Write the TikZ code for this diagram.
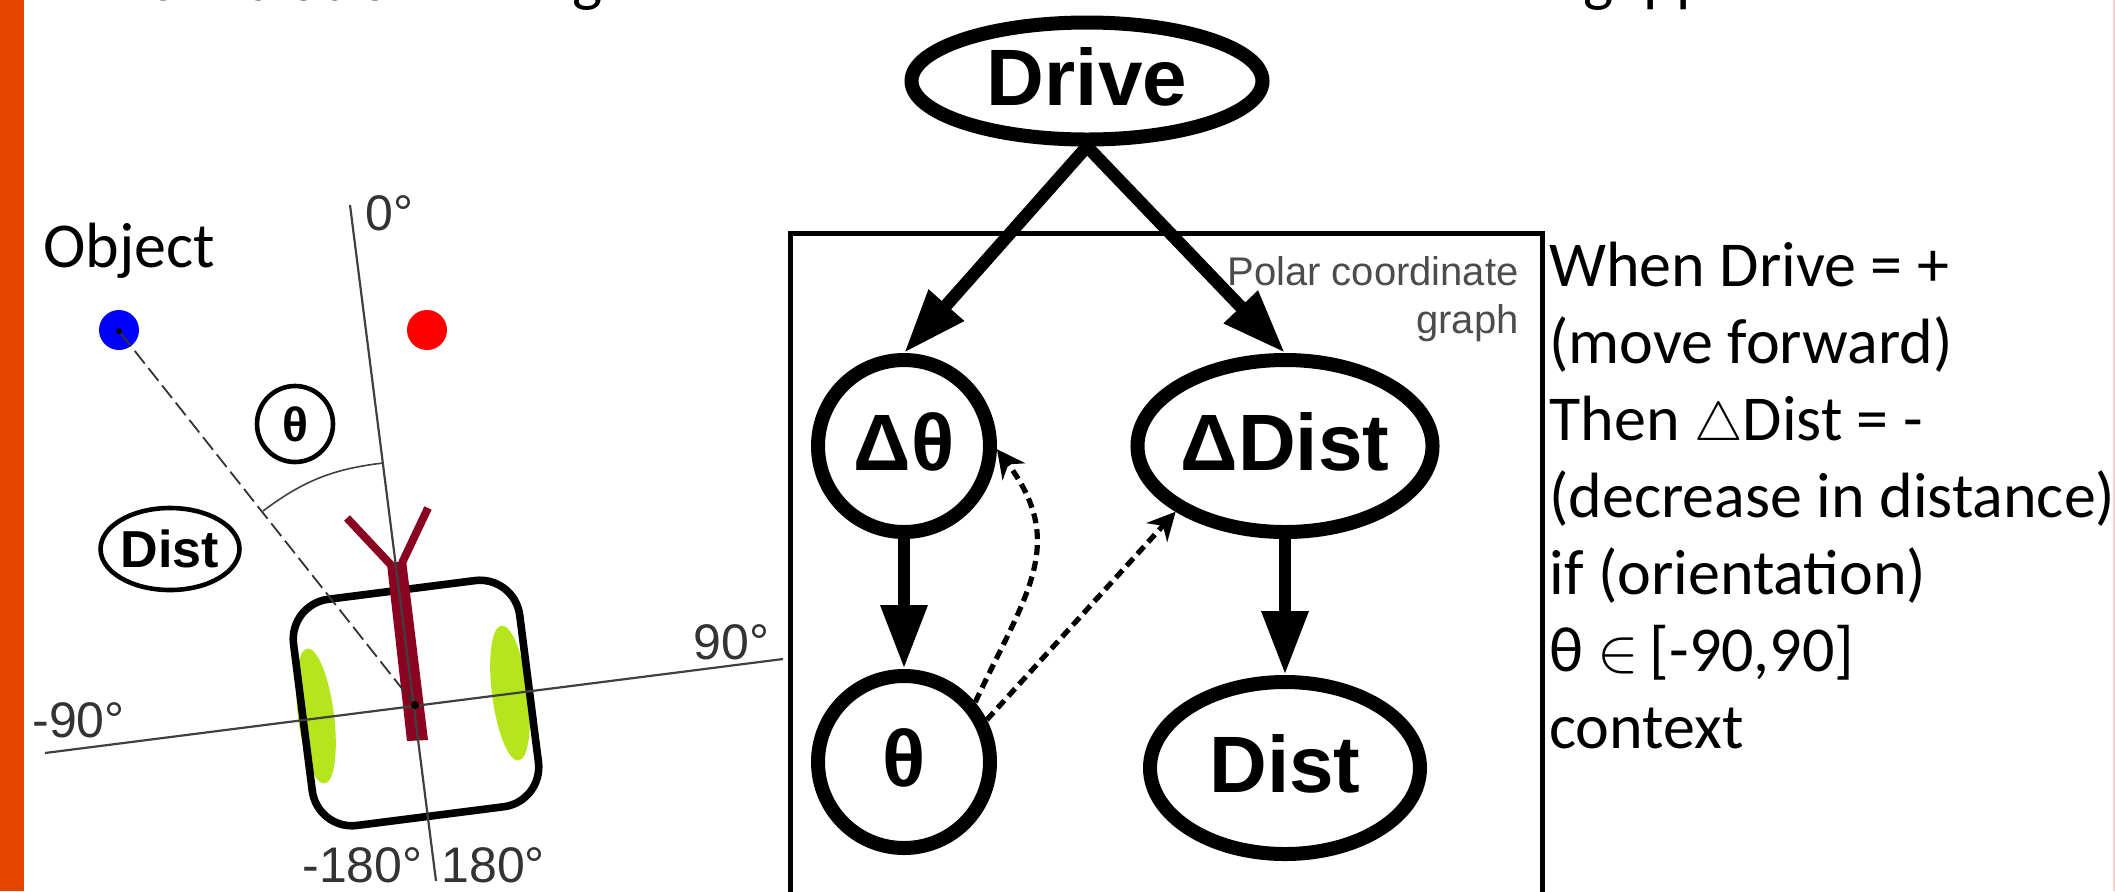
\documentclass[tikz,border=0pt]{standalone}
\usepackage{fontspec}
\usepackage{graphicx}
\usepackage{tikz}
\usetikzlibrary{calc, positioning, arrows.meta, shapes}
\setmainfont{Carlito}
\newfontfamily\arialfont{Liberation Sans}
\definecolor{sidebar}{HTML}{E64200}
\definecolor{maroon}{HTML}{8A0422}
\definecolor{wheelgreen}{HTML}{B5E61D}
\definecolor{edgepink}{HTML}{F6D5D0}
\tikzset{
	gnode/.style={draw, line width=7pt, ellipse, inner sep=0pt, text height=28.6pt, text depth=4pt, font=\arialfont\bfseries\fontsize{40}{46}\selectfont},
	slabel/.style={inner sep=0pt, anchor=base west, font=\fontsize{32}{38.5}\selectfont},
	angle/.style={inner sep=0pt, anchor=base west, text=black!80, font=\arialfont\fontsize{25}{30}\selectfont},
	axis/.style={black!75, line width=1.1pt},
	wheel/.style={fill=wheelgreen, ellipse, rotate=7.26, minimum width=18pt, minimum height=68pt, inner sep=0pt},
	solid arrow/.style={-{Triangle[length=32pt,width=22pt]}, line width=6.3pt},
	dashed arrow/.style={-{Stealth[length=14pt,width=14pt]}, line width=2.6pt, dash pattern=on 5pt off 3pt}
}

\begin{document}
\begin{tikzpicture}[x=0.5pt, y=-0.5pt]
	\useasboundingbox (0,0) rectangle (2115,891);
	\clip (0,0) rectangle (2115,891);
	\fill[sidebar] (0,0) rectangle (24,891);
	\fill[edgepink] (2113,0) rectangle (2115,891);
	% line cut by the top edge %
	\node[slabel] (titlea) at (149,0) {Simulation};
	\node[slabel] (titleb) at (572,-1) {g};
	\node[slabel] (titlec) at (1583,-1) {gapp};
	% robot %
	\node[wheel] (wheell) at (316,716) {};
	\node[wheel] (wheelr) at (510,693) {};
	\node[draw, line width=3.8pt, rounded corners=20pt, rotate=7.26, minimum size=114pt, inner sep=0pt] (car) at (416,703) {};
	\fill[maroon] (387,564) -- (406,560) -- (428,740) -- (407,741) -- cycle;
	\draw[maroon, line width=4pt] (347,518) -- (392,566);
	\draw[maroon, line width=4pt] (428,508) -- (402,563);
	% axes %
	\coordinate (axistop) at (350,205);
	\coordinate (axisbottom) at (436,881);
	\coordinate (axisleft) at (45,753);
	\coordinate (axisright) at (783,659);
	\draw[axis] (axistop) -- (axisbottom);
	\draw[axis] (axisleft) -- (axisright);
	\node[fill=black, circle, inner sep=0pt, minimum size=4pt] (center) at (415,705) {};
	\node[angle] (zero) at (365,230) {0°};
	\node[angle] (ninety) at (693,659) {90°};
	\node[angle] (minusninety) at (32,737) {-90°};
	\node[angle] (minusoneeighty) at (302,882) {-180°};
	\node[angle] (oneeighty) at (441,882) {180°};
	% object %
	\node[slabel] (object) at (43,267) {Object};
	\node[fill=blue, circle, inner sep=0pt, minimum size=20pt] (blueobj) at (119,330) {};
	\node[fill=red, circle, inner sep=0pt, minimum size=20pt] (redobj) at (427,330) {};
	\node[fill=black, circle, inner sep=0pt, minimum size=3pt] (blueobjdot) at (119,331) {};
	\draw[black!80, line width=0.9pt, dash pattern=on 8pt off 3pt] (blueobjdot) -- (center);
	\coordinate (arca) at (383,463);
	\coordinate (arcb) at (263,511);
	\draw[black!75, line width=0.8pt] (arca) to[bend right=15] (arcb);
	\node[draw, line width=2.3pt, circle, minimum size=38pt, inner sep=0pt, font=\arialfont\bfseries\fontsize{24}{28}\selectfont] (thetalabel) at (295,424) {θ};
	\node[draw, line width=2.3pt, ellipse, minimum width=68pt, minimum height=41pt, inner sep=0pt, font=\arialfont\bfseries\fontsize{26}{30}\selectfont] (distlabel) at (170,549) {Dist};
	% graph box %
	\draw[line width=2.5pt] (790,960) -- (790,233) -- (1542,233) -- (1542,960);
	\node[inner sep=0pt, anchor=north east, align=right, text=black!70, font=\arialfont\fontsize{20}{24}\selectfont] (polar) at (1519,256) {Polar coordinate\\graph};
	% nodes %
	\node[gnode, minimum width=175.5pt, minimum height=58.5pt] (drive) at (1087,81) {Drive};
	\node[gnode, minimum width=86pt, minimum height=86pt] (dtheta) at (904,446) {Δθ};
	\node[gnode, below of = dtheta, node distance=158pt, minimum width=86pt, minimum height=86pt] (theta) {θ};
	\node[gnode, right of = dtheta, node distance=190.5pt, minimum width=144pt, minimum height=86pt] (ddist) {ΔDist};
	\node[gnode, below of = ddist, node distance=161pt, minimum width=135pt, minimum height=86pt] (dist) {Dist};
	% connections %
	\draw[solid arrow] (drive.south) -- (dtheta.north);
	\draw[solid arrow] (drive.south) -- (ddist.north);
	\draw[solid arrow] (dtheta.south) -- (theta.north);
	\draw[solid arrow] (ddist.south) -- (dist.north);
	\draw[dashed arrow] (theta.40) to[out=65, in=-53, looseness=1.2] (dtheta.-2);
	\draw[dashed arrow] (theta.27) -- (ddist.211);
	% side text %
	\node[slabel, align=left, anchor=north west] (sidetext) at (1549,242) {When Drive = +\\(move forward)\\Then \scalebox{1.1}{$\triangle$}Dist = -\\(decrease in distance)\\if (orientation)\\θ \scalebox{1.25}{$\in$}\hspace*{-2pt} [-90,90]\\context};
\end{tikzpicture}
\end{document}
